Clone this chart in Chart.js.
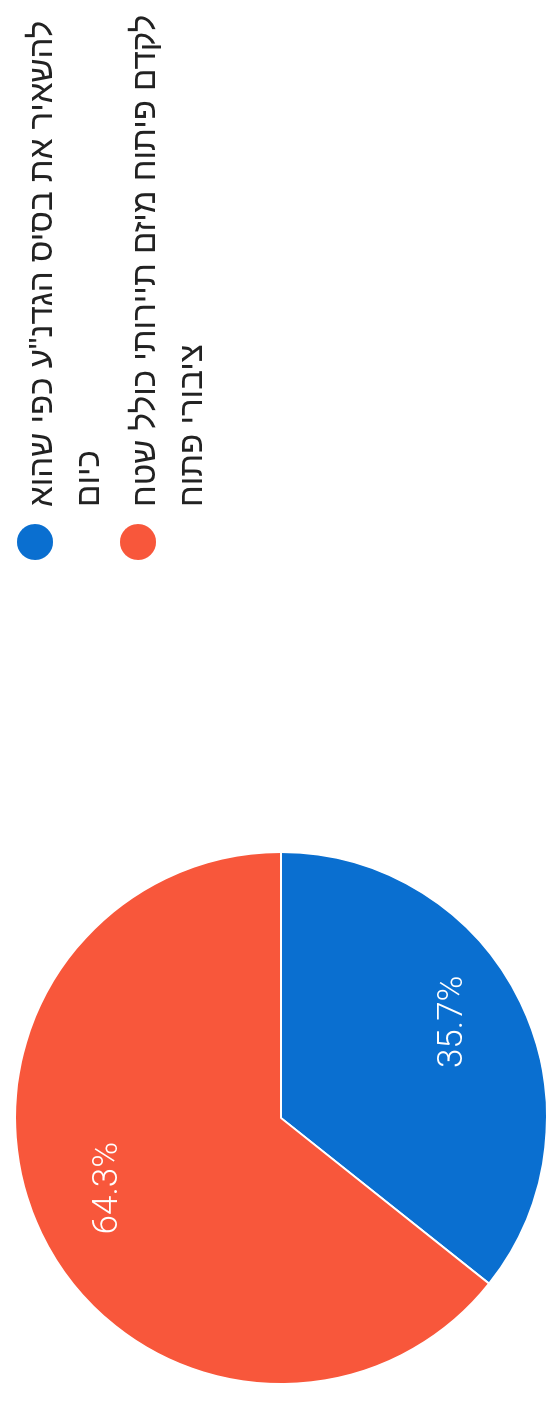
<!DOCTYPE html>
<html lang="he">
<head>
<meta charset="utf-8">
<title>Pie</title>
<script src="https://cdn.jsdelivr.net/npm/chart.js@4.4.1/dist/chart.umd.min.js"></script>
<style>
  html, body { margin: 0; padding: 0; overflow: hidden; background: #fff; }
  /* the scanned chart is turned on its side, so the whole canvas is rotated */
  #wrap {
    position: absolute; left: 0; top: 0;
    width: 1402px; height: 548px;
    transform-origin: 0 0;
    transform: translateY(1402px) rotate(-90deg);
  }
</style>
</head>
<body>
<div id="wrap"><canvas id="pie"></canvas></div>
<script>
// data
const labels = [
    ['להשאיר את בסיס הגדנ"ע כפי שהוא', 'כיום'],
    ['לקדם פיתוח מיזם תיירותי כולל שטח', 'ציבורי פתוח']
];
const values = [35.7, 64.3];
const colors = ['#0a6fd0', '#f8573b'];

// percentage text inside each slice
const sliceLabels = {
    id: 'sliceLabels',
    afterDatasetsDraw: chart => {
        const ctx = chart.ctx;
        const meta = chart.getDatasetMeta(0);
        const total = values.reduce((a, b) => a + b, 0);
        ctx.save();
        ctx.fillStyle = '#fff';
        ctx.font = '300 35px Roboto, "Open Sans", sans-serif';
        ctx.textAlign = 'center';
        ctx.textBaseline = 'middle';
        meta.data.forEach((arc, i) => {
            const p = arc.getProps(['x', 'y', 'startAngle', 'endAngle', 'outerRadius'], true);
            const mid = (p.startAngle + p.endAngle) / 2;
            const r = p.outerRadius * 0.72;
            const txt = (values[i] / total * 100).toFixed(1) + '%';
            ctx.fillText(txt, p.x + Math.cos(mid) * r + 13, p.y + Math.sin(mid) * r);
        });
        ctx.restore();
    }
};

// legend with wrapped hebrew lines, dot on the left of the text
const sideLegend = {
    id: 'sideLegend',
    afterDraw: chart => {
        const ctx = chart.ctx;
        const dotX = 860, textX = 895, step = 103;
        ctx.save();
        ctx.font = '33px "Liberation Sans", Arial, "DejaVu Sans", sans-serif';
        ctx.direction = 'rtl';
        ctx.textAlign = 'left';
        ctx.textBaseline = 'alphabetic';
        labels.forEach((lines, i) => {
            ctx.fillStyle = colors[i];
            ctx.beginPath();
            ctx.arc(dotX, 35 + i * step, 18, 0, Math.PI * 2);
            ctx.fill();
            ctx.fillStyle = '#222';
            lines.forEach((line, j) => {
                ctx.fillText(line, textX, 52 + i * step + j * 47);
            });
        });
        ctx.restore();
    }
};

new Chart(document.getElementById('pie'), {
    type: 'pie',
    data: {
        labels: labels,
        datasets: [{
            data: values,
            backgroundColor: colors,
            borderColor: '#fff',
            borderWidth: 2
        }]
    },
    options: {
        responsive: true,
        maintainAspectRatio: false,
        animation: false,
        rotation: 90,
        layout: { padding: { left: 17, top: 14, right: 851, bottom: 0 } },
        plugins: {
            legend: { display: false },
            tooltip: { enabled: false }
        }
    },
    plugins: [sliceLabels, sideLegend]
});
</script>
</body>
</html>
